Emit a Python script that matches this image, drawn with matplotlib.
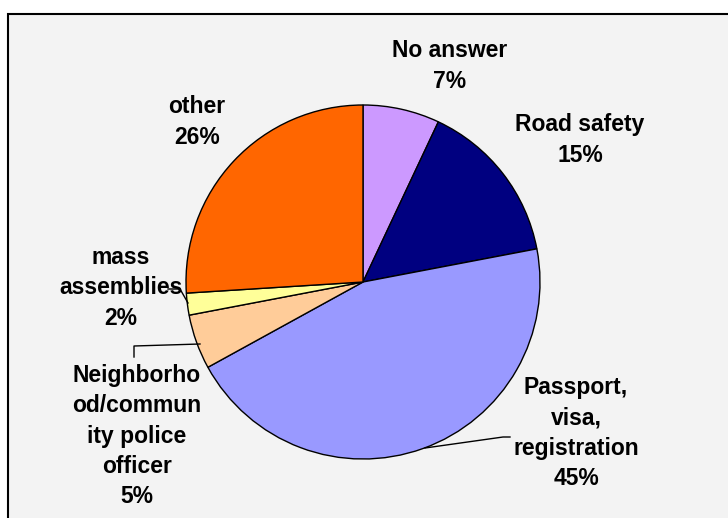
import matplotlib.pyplot as plt
from matplotlib.patches import Rectangle

plt.rcParams['font.family'] = ['Liberation Sans', 'DejaVu Sans']

categories = ['No answer', 'Road safety', 'Passport,\nvisa,\nregistration',
              'Neighborho\nod/commun\nity police\nofficer', 'mass\nassemblies', 'other']
shares = [7, 15, 45, 5, 2, 26]
colors = ['#CC99FF', '#000080', '#9999FF', '#FFCC99', '#FFFF99', '#FF6600']

W, H = 728, 518
fig = plt.figure(figsize=(W / 100, H / 100), dpi=100)
fig.patch.set_facecolor('white')

# chart area frame (runs off the right and bottom edges)
fig.patches.append(Rectangle((8 / W, -0.1), 1.1, (H - 14) / H + 0.1,
                             transform=fig.transFigure, facecolor='#F3F3F3',
                             edgecolor='black', linewidth=1.5, zorder=-5))

ax = fig.add_axes([0, 0, 1, 1])
ax.patch.set_alpha(0)

cx, cy, r = 363, H - 282, 177
ax.pie(shares, colors=colors, startangle=90, counterclock=False,
       center=(cx, cy), radius=r,
       wedgeprops=dict(edgecolor='black', linewidth=1))
ax.set_xlim(0, W)
ax.set_ylim(0, H)
ax.set_aspect('auto')
ax.axis('off')

# label positions in pixel space (y measured from top)
label_pos = [(450, 66), (580, 140), (576, 433), (137, 436), (121, 288), (197, 122)]
for name, val, (lx, ly) in zip(categories, shares, label_pos):
    ax.text(lx, H - ly, f'{name}\n{val}%', ha='center', va='center',
            fontsize=16.5, fontweight='bold', linespacing=1.4)

# leader lines
def leader(pts):
    xs = [p[0] for p in pts]
    ys = [H - p[1] for p in pts]
    ax.plot(xs, ys, color='black', linewidth=1)

leader([(168, 289), (180, 289), (188, 303)])
leader([(134, 357), (134, 346), (200, 344)])
leader([(425, 448), (503, 437), (510, 437)])

fig.savefig('out.png', dpi=100)
